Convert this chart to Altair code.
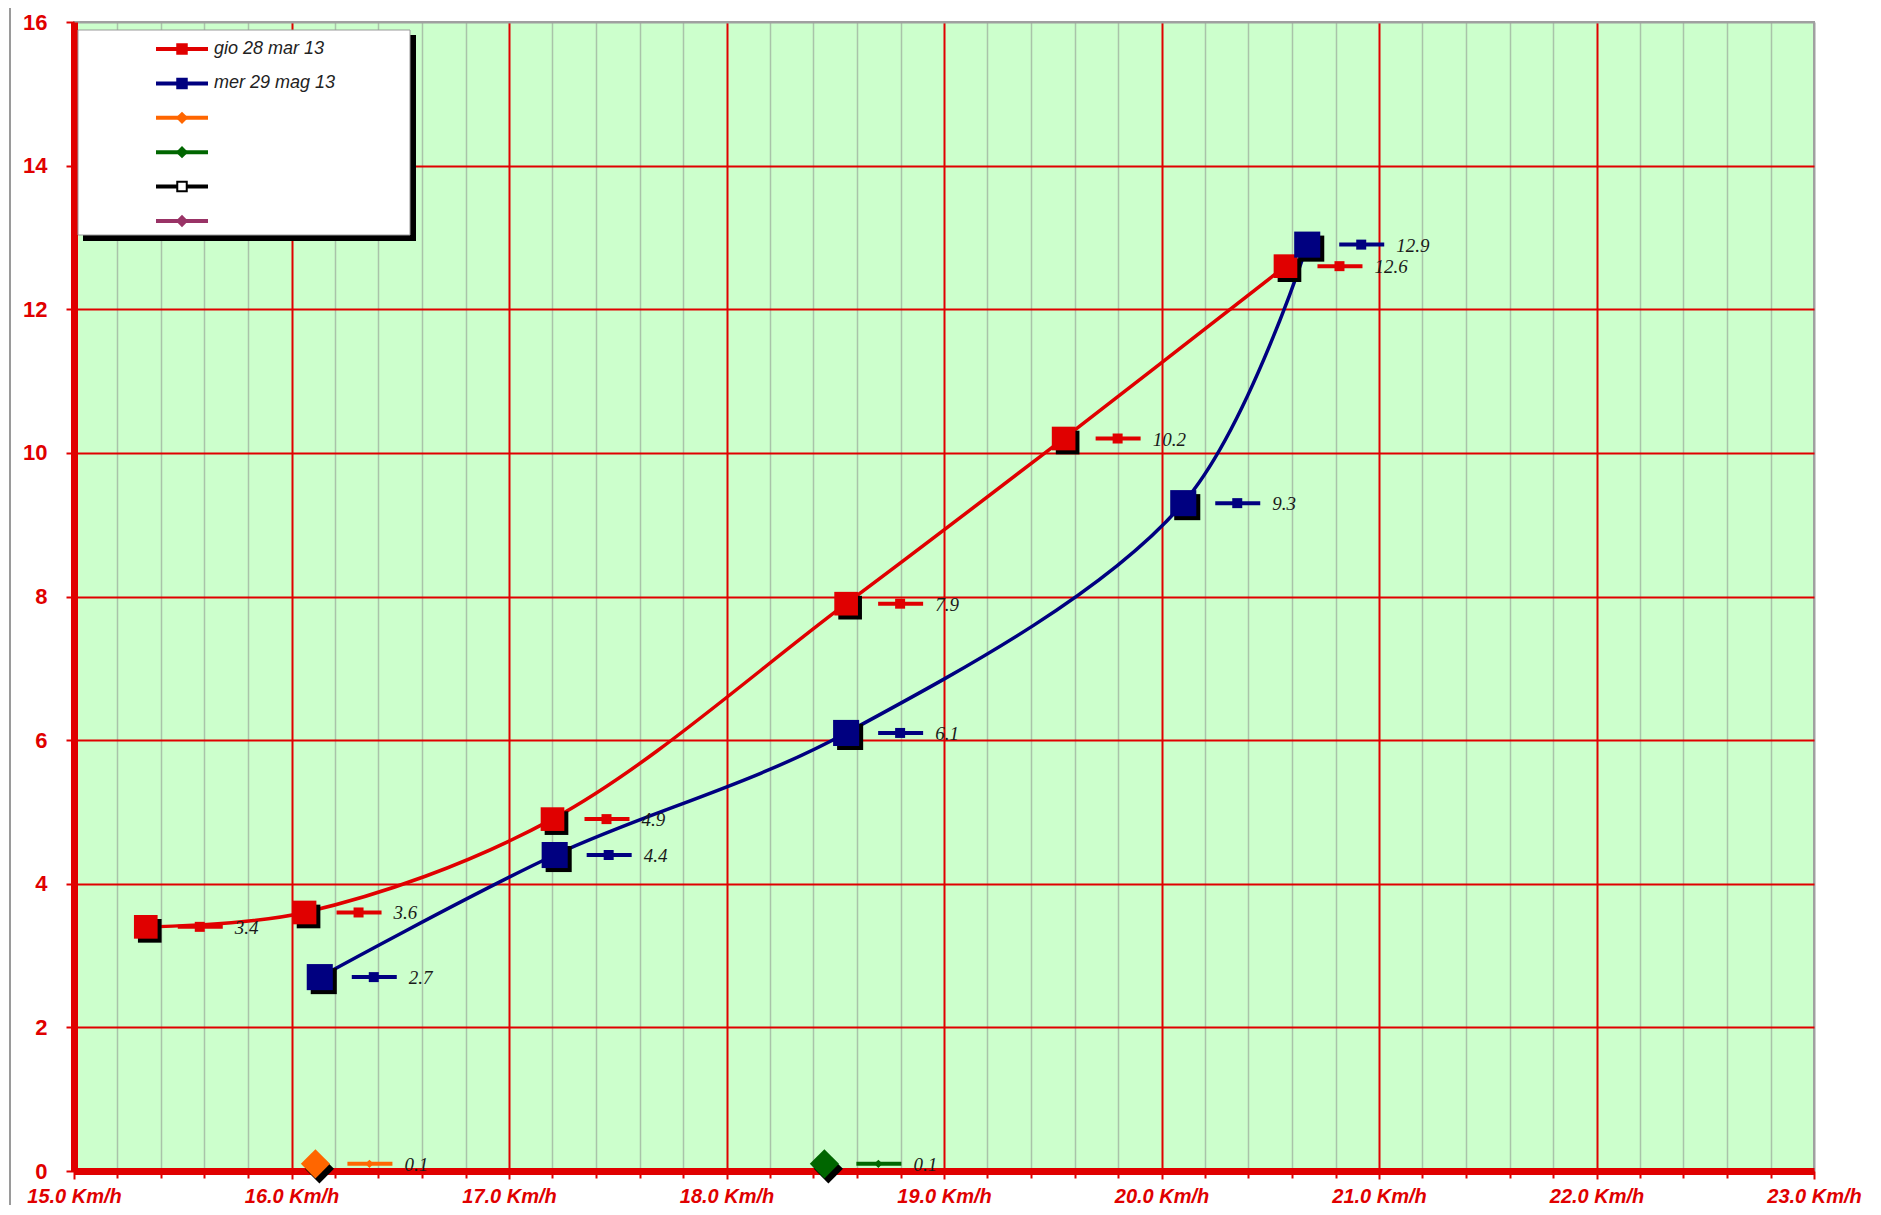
import altair as alt
import pandas as pd

# ---------------- data ----------------
red_name = "gio 28 mar 13"
blue_name = "mer 29 mag 13"
red_x = [15.33, 16.06, 17.20, 18.55, 19.55, 20.57]
red_y = [3.4, 3.6, 4.9, 7.9, 10.2, 12.6]
blue_x = [16.13, 17.21, 18.55, 20.10, 20.67]
blue_y = [2.7, 4.4, 6.1, 9.3, 12.9]
orange_x = [16.11]
orange_y = [0.1]
green_x = [18.45]
green_y = [0.1]

series_keys = [red_name, blue_name, "s3", "s4", "s5", "s6"]
legend_labels = [red_name, blue_name, "", "", "", ""]
series_colors = ["#E00000", "#000080", "#FF6600", "#006600", "#000000", "#993366"]
legend_shapes = ["square", "square", "diamond", "diamond", "square", "diamond"]
legend_fills = ["#E00000", "#000080", "#FF6600", "#006600", "#FFFFFF", "#993366"]

x_major = [15, 16, 17, 18, 19, 20, 21, 22, 23]
x_minor = [round(15 + 0.2 * i, 1) for i in range(41) if i % 5 != 0]
y_ticks = [0, 2, 4, 6, 8, 10, 12, 14, 16]

line_df = pd.DataFrame({
    "series": [red_name] * len(red_x) + [blue_name] * len(blue_x),
    "x": red_x + blue_x,
    "y": red_y + blue_y,
})
dia_df = pd.DataFrame({
    "series": ["s3"] * len(orange_x) + ["s4"] * len(green_x),
    "x": orange_x + green_x,
    "y": orange_y + green_y,
})
legend_df = pd.DataFrame({
    "label": legend_labels,
    "color": series_colors,
    "shape": legend_shapes,
    "fill": legend_fills,
})

RED = "#E00000"
xs = alt.Scale(domain=[15, 23], nice=False, zero=False)
ys = alt.Scale(domain=[0, 16], nice=False)
cs = alt.Scale(domain=series_keys, range=series_colors)
color = alt.Color("series:N", scale=cs, legend=None)

minor_axis = alt.Axis(values=x_minor, orient="bottom", grid=True, gridColor="#A9C3A9",
                      gridWidth=1.5, labels=False, ticks=True, tickColor=RED,
                      tickSize=7, tickWidth=2, domain=False, title=None)
major_axis = alt.Axis(values=x_major, orient="bottom", grid=True,
                      gridColor={"condition": {"test": "datum.value >= 23", "value": "#A0A0A0"}, "value": RED},
                      gridWidth=2, domain=True, domainColor=RED, domainWidth=7,
                      ticks=True, tickColor=RED, tickSize=8, tickWidth=2,
                      labelExpr="format(datum.value, '.1f') + ' Km/h'",
                      labelColor=RED, labelFont="Liberation Sans", labelFontWeight="bold",
                      labelFontStyle="italic", labelFontSize=20, labelPadding=7,
                      labelFlush=False, title=None)
y_axis = alt.Axis(values=y_ticks, orient="left", grid=True,
                  gridColor={"condition": {"test": "datum.value >= 16", "value": "#A0A0A0"}, "value": RED},
                  gridWidth=2, domain=True, domainColor=RED, domainWidth=7,
                  ticks=True, tickColor=RED, tickSize=8, tickWidth=2,
                  labelColor=RED, labelFont="Liberation Sans", labelFontWeight="bold",
                  labelFontSize=22, labelPadding=19, labelFlush=False, title=None)

x_none = alt.X("x:Q", scale=xs, axis=None)
y_none = alt.Y("y:Q", scale=ys, axis=None)

lines = alt.Chart(line_df).mark_line(interpolate="catmull-rom", strokeWidth=3.5).encode(
    x=alt.X("x:Q", scale=xs, axis=minor_axis),
    y=alt.Y("y:Q", scale=ys, axis=y_axis),
    color=color,
)
sizes = alt.Size("series:N", scale=alt.Scale(domain=[red_name, blue_name], range=[560, 680]), legend=None)
sq_shadow = alt.Chart(line_df).mark_square(color="black", opacity=1, xOffset=4, yOffset=4).encode(
    x=alt.X("x:Q", scale=xs, axis=major_axis), y=y_none, size=sizes)
sq = alt.Chart(line_df).mark_square(opacity=1).encode(x=x_none, y=y_none, size=sizes, color=color)

dia_shadow = alt.Chart(dia_df).mark_point(shape="diamond", filled=True, opacity=1, color="black",
                                          size=850, xOffset=4, yOffset=5).encode(x=x_none, y=y_none)
dia = alt.Chart(dia_df).mark_point(shape="diamond", filled=True, opacity=1, size=850).encode(
    x=x_none, y=y_none, color=color)

all_pts = pd.concat([line_df, dia_df], ignore_index=True)
key_rule = alt.Chart(all_pts).mark_rule(strokeWidth=4, xOffset=32, x2Offset=77).encode(
    x=x_none, x2=alt.X2("x"), y=y_none, color=color)
key_sq = alt.Chart(line_df).mark_square(size=100, opacity=1, xOffset=54).encode(
    x=x_none, y=y_none, color=color)
key_dia = alt.Chart(dia_df).mark_point(shape="diamond", filled=True, opacity=1, size=70, xOffset=54).encode(
    x=x_none, y=y_none, color=color)
labels = alt.Chart(all_pts).mark_text(align="left", baseline="middle", dx=89, dy=1,
                                      font="Liberation Serif", fontStyle="italic", fontSize=19,
                                      color="#1a1a1a").encode(
    x=x_none, y=y_none, text=alt.Text("y:Q", format=".1f"))

# ---------------- legend box ----------------
one = alt.Data(values=[{"a": 1}])
leg_shadow = alt.Chart(one).mark_rect(color="black").encode(
    x=alt.value(9), x2=alt.value(342), y=alt.value(13), y2=alt.value(219))
leg_box = alt.Chart(one).mark_rect(fill="white", stroke="#9A9A9A", strokeWidth=1).encode(
    x=alt.value(4), x2=alt.value(336), y=alt.value(8), y2=alt.value(213))

leg_base = alt.Chart(legend_df).transform_window(idx="row_number()").transform_calculate(
    ly="27 + 34.4 * (datum.idx - 1)")
ly = alt.Y("ly:Q", scale=None)
leg_rule = leg_base.mark_rule(strokeWidth=4).encode(
    x=alt.value(82), x2=alt.value(134), y=ly, color=alt.Color("color:N", scale=None))
leg_mark = leg_base.mark_point(filled=True, opacity=1, size=90, strokeWidth=2).encode(
    x=alt.value(108), y=ly, shape=alt.Shape("shape:N", scale=None),
    fill=alt.Fill("fill:N", scale=None), stroke=alt.Stroke("color:N", scale=None))
leg_text = leg_base.mark_text(align="left", baseline="middle", font="Liberation Sans",
                              fontStyle="italic", fontSize=18, color="#222222").encode(
    x=alt.value(140), y=ly, text="label:N")

outer = alt.Chart(one).mark_rule(color="#9A9A9A", strokeWidth=2).encode(
    x=alt.value(-64), y=alt.value(-14), y2=alt.value(1190))

chart = alt.layer(
    outer, lines, sq_shadow, sq, dia_shadow, dia, key_rule, key_sq, key_dia, labels,
    leg_shadow, leg_box, leg_rule, leg_mark, leg_text,
).resolve_axis(x="independent", y="independent").properties(
    width=1740, height=1149,
    autosize=alt.AutoSizeParams(type="none"),
    padding={"left": 66, "top": 14, "right": 58, "bottom": 34},
).configure_view(fill="#CCFFCC", stroke="#A0A0A0", strokeWidth=2)

chart.save("out.html", embed_options={"renderer": "svg", "actions": False})
